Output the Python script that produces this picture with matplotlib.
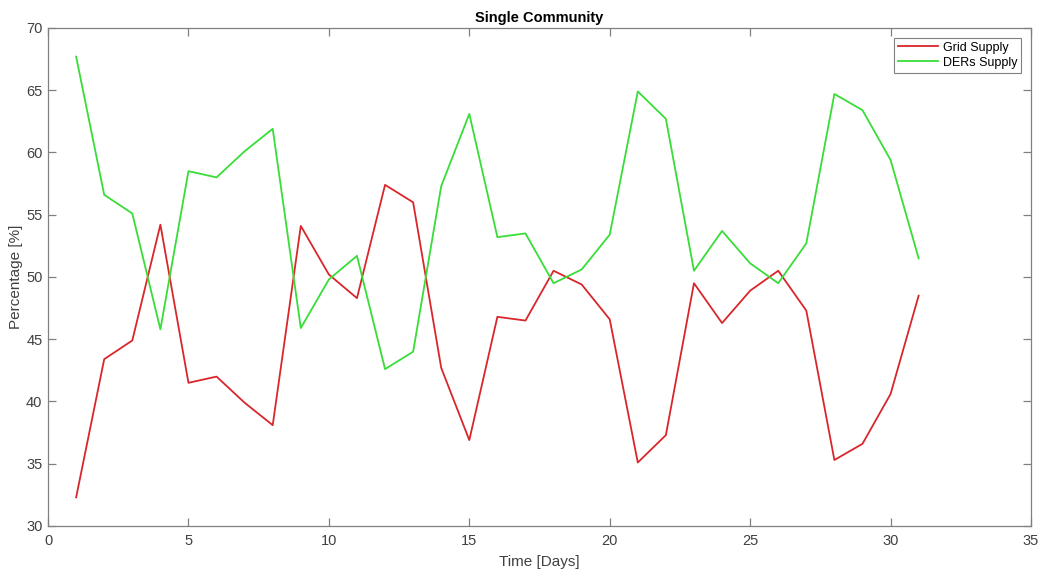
import matplotlib
matplotlib.use("Agg")
import matplotlib.pyplot as plt

# daily supply shares (%)
days = list(range(1, 32))
grid_supply = [32.3, 43.4, 44.9, 54.2, 41.5, 42.0, 39.9, 38.1, 54.1, 50.2,
               48.3, 57.4, 56.0, 42.7, 36.9, 46.8, 46.5, 50.5, 49.4, 46.6,
               35.1, 37.3, 49.5, 46.3, 48.9, 50.5, 47.3, 35.3, 36.6, 40.6, 48.5]
ders_supply = [67.7, 56.6, 55.1, 45.8, 58.5, 58.0, 60.1, 61.9, 45.9, 49.8,
               51.7, 42.6, 44.0, 57.3, 63.1, 53.2, 53.5, 49.5, 50.6, 53.4,
               64.9, 62.7, 50.5, 53.7, 51.1, 49.5, 52.7, 64.7, 63.4, 59.4, 51.5]

plt.rcParams['font.family'] = ['Liberation Sans', 'DejaVu Sans']

fig = plt.figure(figsize=(10.56, 5.70), dpi=100)
ax = fig.add_axes([0.0455, 0.0772, 0.9308, 0.8737])

ax.plot(days, grid_supply, color='#d9262b', lw=1.3, label='Grid Supply')
ax.plot(days, ders_supply, color='#38dd38', lw=1.3, label='DERs Supply')

ax.set_xlim(0, 35)
ax.set_ylim(30, 70)
ax.set_xticks(range(0, 36, 5))
ax.set_yticks(range(30, 71, 5))

for s in ax.spines.values():
    s.set_color('#808080')
    s.set_linewidth(0.9)
ax.tick_params(direction='in', top=True, right=True, length=6, width=0.9,
               color='#808080', labelcolor='#404040', labelsize=10.5)
ax.tick_params(axis='x', pad=6)
ax.tick_params(axis='y', pad=4)

ax.set_title('Single Community', fontsize=10.5, fontweight='bold', pad=4)
ax.set_xlabel('Time [Days]', fontsize=11, color='#404040', labelpad=5)
ax.set_ylabel('Percentage [%]', fontsize=11, color='#404040', labelpad=2)

leg = ax.legend(loc='upper right', fontsize=9, fancybox=False, framealpha=1,
                edgecolor='#808080', handlelength=3.2, borderaxespad=0.8,
                borderpad=0.3, labelspacing=0.25, handletextpad=0.4)
leg.get_frame().set_linewidth(0.8)

fig.savefig('out.png', dpi=100)
